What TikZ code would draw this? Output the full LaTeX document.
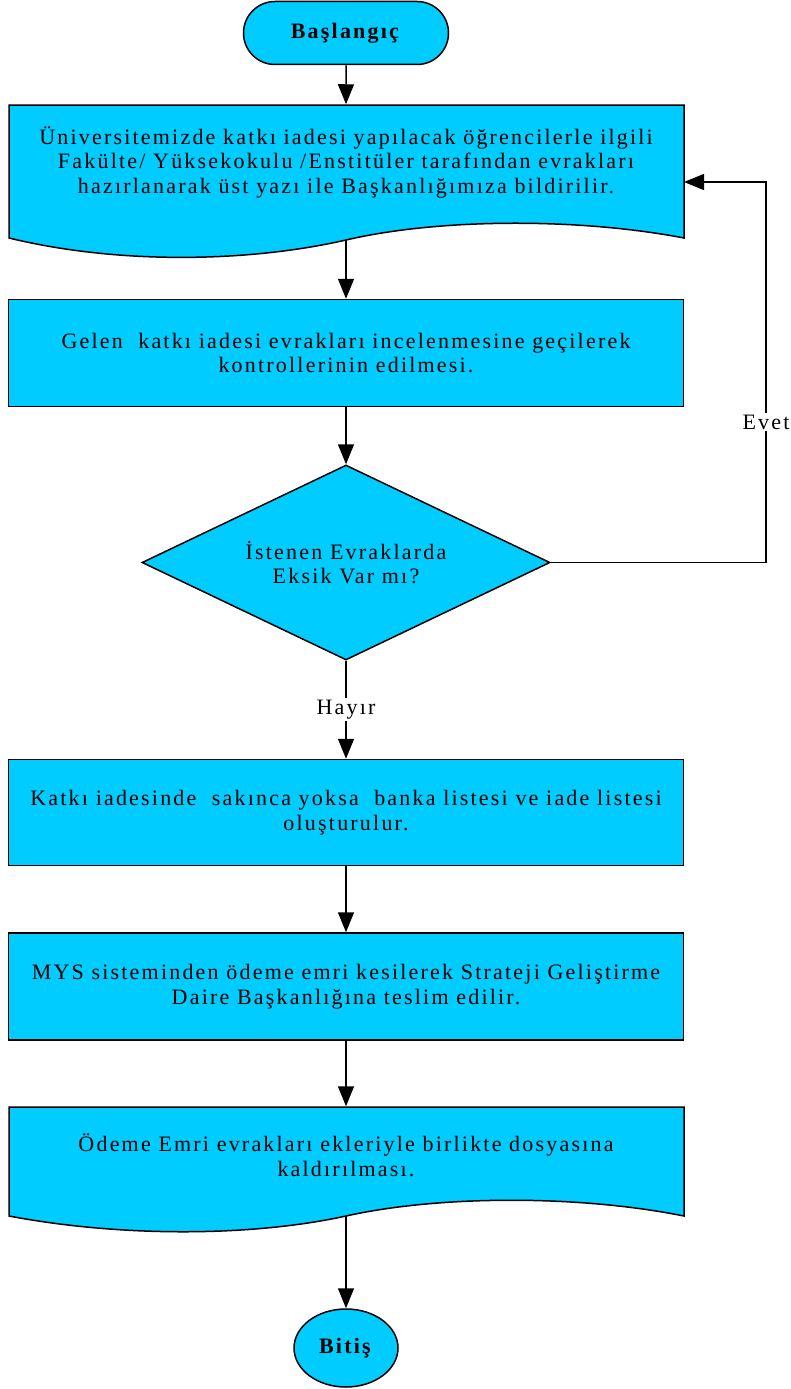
\documentclass[tikz,border=0pt]{standalone}
\usepackage{fontspec}
\setmainfont{Liberation Serif}[LetterSpace=10]
\usetikzlibrary{arrows.meta,shapes.geometric,shapes.misc}

\definecolor{kutu}{RGB}{0,204,255}

\tikzset{
  bas/.style={draw, fill=kutu, shape=rounded rectangle, minimum width=205pt, minimum height=63pt, inner sep=0pt},
  adim/.style={draw, fill=kutu, minimum width=675pt, align=center, inner sep=0pt},
  belge/.style={draw, fill=kutu, line join=miter},
  yazi/.style={align=center, inner sep=0pt},
  karar/.style={draw, fill=kutu, shape=diamond, aspect=2.1, minimum width=408pt, minimum height=195pt, inner sep=0pt, align=center},
  bitis/.style={draw, fill=kutu, shape=ellipse, minimum width=104pt, minimum height=78pt, inner sep=0pt},
  etiket/.style={fill=white, inner sep=2pt}
}

\begin{document}
\begin{tikzpicture}[x=1pt, y=-1pt, line width=1.5pt,
  >={Triangle[length=20pt,width=16pt]},
  every node/.append style={font=\fontsize{22}{24.5}\selectfont}]
\useasboundingbox (0,0) rectangle (791,1389);
\fill[white] (0,0) rectangle (791,1389);
  \node[bas] (bas) at (346,33) {\textbf{Başlangıç}};
% ilk belge
  \draw[belge] (9,105) -- (684,105) -- (684,238) .. controls (580,218) and (440,218) .. (346,240)
    .. controls (250,262) and (120,265) .. (9,238) -- cycle;
  \node[minimum width=675pt, minimum height=133pt, inner sep=0pt] (belge1) at (346,171.5) {};
  \node[yazi] (belge1yazi) at (346,162) {Üniversitemizde katkı iadesi yapılacak öğrencilerle ilgili\\
    Fakülte/ Yüksekokulu /Enstitüler tarafından evrakları\\
    hazırlanarak üst yazı ile Başkanlığımıza bildirilir.};
  \coordinate (belge1alt) at (346,240);
  \coordinate (belge1sag) at (684,182);
  \node[adim, minimum height=107pt] (kontrol) at (346,353) {Gelen\ \ katkı iadesi evrakları incelenmesine geçilerek\\
    kontrollerinin edilmesi.};
  \node[karar] (eksik) at (346,562.5) {İstenen Evraklarda\\Eksik Var mı?};
  \node[adim, minimum height=106pt] (liste) at (346,812.5) {Katkı iadesinde\ \ sakınca yoksa\ \ banka listesi ve iade listesi\\
    oluşturulur.};
  \node[adim, minimum height=107pt] (mys) at (346,986.5) {MYS sisteminden ödeme emri kesilerek Strateji Geliştirme\\
    Daire Başkanlığına teslim edilir.};
% son belge
  \draw[belge] (9,1107) -- (684,1107) -- (684,1216) .. controls (580,1195) and (440,1195) .. (346,1216)
    .. controls (250,1237) and (120,1237) .. (9,1216) -- cycle;
  \node[minimum width=675pt, minimum height=109pt, inner sep=0pt] (belge2) at (346,1161.5) {};
  \node[yazi] (belge2yazi) at (346,1155) {Ödeme Emri evrakları ekleriyle birlikte dosyasına\\
    kaldırılması.};
  \coordinate (belge2alt) at (346,1216);
  \node[bitis] (bitis) at (346,1348) {\textbf{Bitiş}};
% oklar
  \draw[->] (bas) -- (belge1);
  \draw[->] (belge1alt) -- (kontrol);
  \draw[->] (kontrol) -- (eksik);
  \coordinate (donus) at (766,182);
  \draw[->] (eksik.east) -| (donus) -- (belge1sag);
  \node[etiket] (evet) at (766,422) {Evet};
  \draw[->] (eksik) -- node[etiket] (hayir) {Hayır} (liste);
  \draw[->] (liste) -- (mys);
  \draw[->] (mys) -- (belge2);
  \draw[->] (belge2alt) -- (bitis);
\end{tikzpicture}
\end{document}
